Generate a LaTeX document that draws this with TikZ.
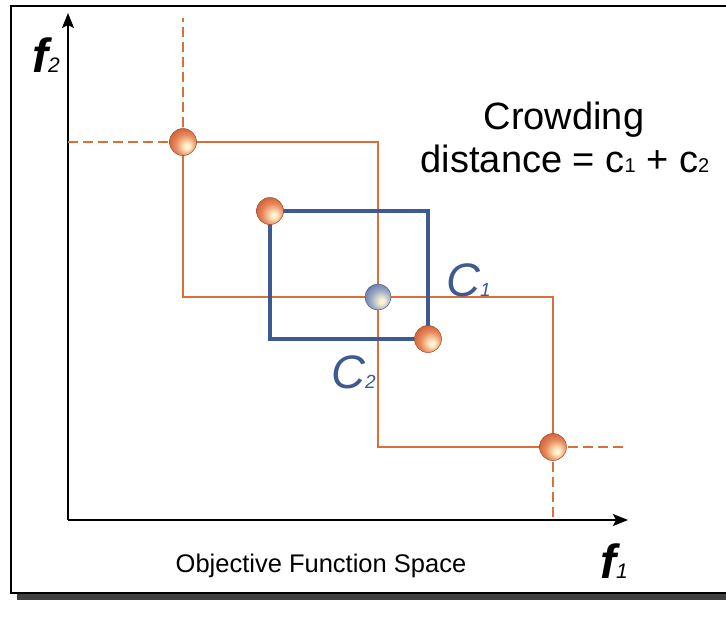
\documentclass[tikz,border=0pt]{standalone}
\usepackage{fontspec}
\setmainfont{Liberation Sans}
\usetikzlibrary{arrows.meta}
\definecolor{orline}{HTML}{D9703A}
\definecolor{blline}{HTML}{3F5A93}
\definecolor{hi}{HTML}{FFF4D0}
\definecolor{omid}{HTML}{E8885A}
\definecolor{oout}{HTML}{C0552E}
\definecolor{bmid}{HTML}{98A8C4}
\definecolor{bout}{HTML}{5A6E9C}
\pgfdeclareradialshading{orangeball}{\pgfpoint{8bp}{-9bp}}{color(0bp)=(hi); color(4bp)=(hi); color(20bp)=(omid); color(36bp)=(oout); color(60bp)=(oout)}
\pgfdeclareradialshading{blueball}{\pgfpoint{8bp}{-9bp}}{color(0bp)=(hi); color(4bp)=(hi); color(20bp)=(bmid); color(36bp)=(bout); color(60bp)=(bout)}
\tikzset{
  axis/.style={line width=1.8pt,-{Stealth[length=15pt,width=12pt,inset=3pt]}},
  orl/.style={orline,line width=2pt},
  ordash/.style={orline,line width=2pt,dash pattern=on 10pt off 5pt},
  blrect/.style={blline,line width=3.6pt},
  oball/.style={circle,minimum size=27pt,inner sep=0pt,shading=orangeball,draw=oout!85!black,line width=0.5pt},
  bball/.style={circle,minimum size=26pt,inner sep=0pt,shading=blueball,draw=bout!85!black,line width=0.5pt},
  clab/.style={text=blline,font=\fontsize{47}{47}\selectfont\itshape,inner sep=0pt},
  flab/.style={font=\fontsize{48}{48}\selectfont\bfseries\itshape,inner sep=0pt},
}
\begin{document}
\begin{tikzpicture}[x=1pt,y=-1pt]
\useasboundingbox (0,0) rectangle (726,625);
% frame with shadow
\fill[black!75] (17,593) rectangle (730,600);
\draw[line width=2pt,fill=white] (11,6) rectangle (740,593);
% axes
\coordinate (O) at (68,520);
\coordinate (Ytip) at (68,13);
\coordinate (Xtip) at (628,520);
\draw[axis] (O) -- (Ytip);
\draw[axis] (O) -- (Xtip);
% points
\coordinate (pA) at (183,142);
\coordinate (pB) at (270,211);
\coordinate (pC) at (378,297);
\coordinate (pD) at (428,339);
\coordinate (pE) at (553,447);
\coordinate (dA1) at (68,142);
\coordinate (dA2) at (183,18);
\coordinate (dE1) at (625,447);
\coordinate (dE2) at (553,520);
% orange cuboids
\draw[orl] (pA) rectangle (pC);
\draw[orl] (pC) rectangle (pE);
\draw[ordash] (pA) -- (dA1);
\draw[ordash] (pA) -- (dA2);
\draw[ordash] (pE) -- (dE1);
\draw[ordash] (pE) -- (dE2);
% blue cuboid
\draw[blrect] (pB) rectangle (pD);
% balls
\node[oball] (bA) at (pA) {};
\node[oball] (bB) at (pB) {};
\node[bball] (bC) at (pC) {};
\node[oball] (bD) at (pD) {};
\node[oball] (bE) at (pE) {};
% labels
\node[clab,anchor=base west] (c1) at (446,296) {C\fontsize{19}{19}\selectfont 1};
\node[clab,anchor=base west] (c2) at (331,388) {C\fontsize{19}{19}\selectfont 2};
\node[flab,anchor=base west] (f2) at (32,72) {f\fontsize{21}{21}\selectfont\mdseries 2};
\node[flab,anchor=base west] (f1) at (600,578) {f\fontsize{21}{21}\selectfont\mdseries 1};
\node[font=\fontsize{38}{38}\selectfont,inner sep=0pt,anchor=base] (cr) at (564,129) {Crowding};
\node[font=\fontsize{38}{38}\selectfont,inner sep=0pt,anchor=base] (cd) at (565,172) {distance = c{\fontsize{20}{20}\selectfont 1} + c{\fontsize{20}{20}\selectfont 2}};
\node[font=\fontsize{25.5}{25.5}\selectfont,inner sep=0pt,anchor=base] (ofs) at (321,572) {Objective Function Space};
\end{tikzpicture}
\end{document}
